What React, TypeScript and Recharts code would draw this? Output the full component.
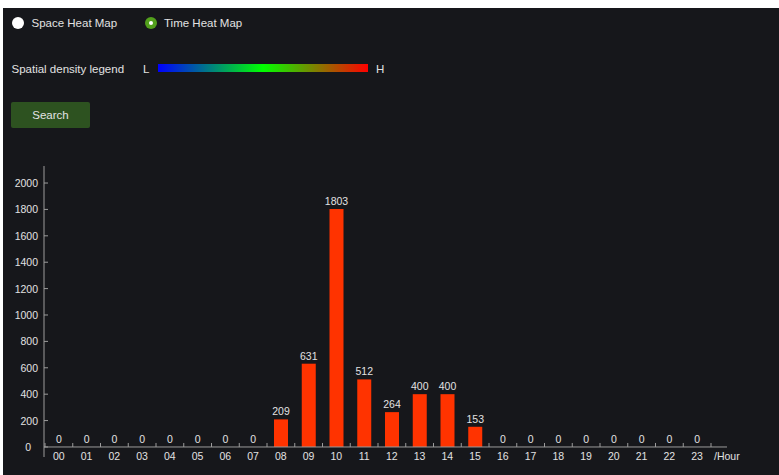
import React from 'react';
import { BarChart, Bar, XAxis, YAxis, ReferenceLine } from 'recharts';

const hours = ['00','01','02','03','04','05','06','07','08','09','10','11','12','13','14','15','16','17','18','19','20','21','22','23'];
const counts = [0,0,0,0,0,0,0,0,209,631,1803,512,264,400,400,153,0,0,0,0,0,0,0,0];
const yTicks = [0,200,400,600,800,1000,1200,1400,1600,1800,2000];
const axisName = '/Hour';
const radioLabels = ['Space Heat Map', 'Time Heat Map'];
const legendTitle = 'Spatial density legend';
const legendLow = 'L';
const legendHigh = 'H';
const buttonText = 'Search';
const gradientStops = ['#0000ff', '#00ff00', '#ff0000'];

const data = hours.map((h, i) => ({ hour: h, count: counts[i] }));

const BG = '#16171b';
const TEXT = '#e2e2e2';
const AXIS = '#9c9c9c';
const BAR = '#ff3300';
const FONT = '"Liberation Sans", Arial, sans-serif';

const CHART_W = 776;
const CHART_H = 467;
const MARGIN = { top: 158, right: 52, bottom: 0, left: 0 };
const Y_W = 41;
const X_H = 18;
const PAD_L = 1;
const PAD_R = 16;
const Y_DOMAIN: [number, number] = [-76, 2129];
const PLOT_W = CHART_W - MARGIN.left - MARGIN.right - Y_W;
const PLOT_H = CHART_H - MARGIN.top - MARGIN.bottom - X_H;
const BAND = (PLOT_W - PAD_L - PAD_R) / hours.length;
const ZERO_OFF = (PLOT_H * (0 - Y_DOMAIN[0])) / (Y_DOMAIN[1] - Y_DOMAIN[0]);

const XTick = (props: any) => {
  const { x, y, payload, index } = props;
  const zeroY = y - ZERO_OFF;
  const last = index === hours.length - 1;
  return (
    <g>
      <line x1={x - BAND / 2} x2={x - BAND / 2} y1={zeroY} y2={zeroY - 4} stroke={AXIS} />
      {last && <line x1={x + BAND / 2} x2={x + BAND / 2} y1={zeroY} y2={zeroY - 4} stroke={AXIS} />}
      <text x={x} y={y + 3} textAnchor="middle" fill={TEXT} fontSize={10.5} fontFamily={FONT}>
        {payload.value}
      </text>
      {last && (
        <text x={x + BAND / 2 + 3} y={y + 3} textAnchor="start" fill={TEXT} fontSize={10.5} fontFamily={FONT}>
          {axisName}
        </text>
      )}
    </g>
  );
};

const YTick = (props: any) => {
  const { x, y, payload } = props;
  const shift = payload.value === 0 ? -7 : 0;
  return (
    <text x={x + shift} y={y + 4} textAnchor="end" fill={TEXT} fontSize={10.5} fontFamily={FONT}>
      {payload.value}
    </text>
  );
};

const BarWithLabel = (props: any) => {
  const { x, y, width, height, value, payload } = props;
  const v = Array.isArray(value) ? value[1] - value[0] : value ?? payload?.count;
  return (
    <g>
      {height > 0 && <rect x={x} y={y} width={width} height={height} fill={BAR} />}
      <text x={x + width / 2} y={y - 4} textAnchor="middle" fill={TEXT} fontSize={10.5} fontFamily={FONT}>
        {v}
      </text>
    </g>
  );
};

const textStyle: React.CSSProperties = {
  position: 'absolute',
  color: TEXT,
  fontSize: 11.5,
  fontFamily: FONT,
  lineHeight: '14px',
  whiteSpace: 'nowrap',
};

export default function App() {
  return (
    <div
      style={{
        position: 'absolute',
        left: 3,
        top: 8,
        width: CHART_W,
        height: CHART_H,
        background: BG,
        overflow: 'hidden',
      }}
    >
      <div style={{ position: 'absolute', left: 8.5, top: 9, width: 12, height: 12, borderRadius: '50%', background: '#ffffff' }} />
      <div style={{ ...textStyle, left: 28.5, top: 8 }}>{radioLabels[0]}</div>
      <div style={{ position: 'absolute', left: 142, top: 9, width: 12, height: 12, borderRadius: '50%', background: '#52a01c' }}>
        <div style={{ position: 'absolute', left: 4, top: 4, width: 4, height: 4, borderRadius: '50%', background: '#ffffff' }} />
      </div>
      <div style={{ ...textStyle, left: 161, top: 8 }}>{radioLabels[1]}</div>
      <div style={{ ...textStyle, left: 8.5, top: 54 }}>{legendTitle}</div>
      <div style={{ ...textStyle, left: 140, top: 54 }}>{legendLow}</div>
      <div
        style={{
          position: 'absolute',
          left: 155,
          top: 56,
          width: 210,
          height: 8,
          background: `linear-gradient(to right, ${gradientStops.join(', ')})`,
        }}
      />
      <div style={{ ...textStyle, left: 373, top: 54 }}>{legendHigh}</div>
      <div
        style={{
          position: 'absolute',
          left: 8,
          top: 94,
          width: 79,
          height: 26,
          borderRadius: 2,
          background: '#2d5220',
          color: TEXT,
          fontSize: 11.5,
          fontFamily: FONT,
          lineHeight: '26px',
          textAlign: 'center',
        }}
      >
        {buttonText}
      </div>
      <div style={{ position: 'absolute', left: 0, top: 0 }}>
        <BarChart width={CHART_W} height={CHART_H} data={data} margin={MARGIN}>
          <XAxis
            dataKey="hour"
            height={X_H}
            axisLine={false}
            tickLine={false}
            tickSize={0}
            tickMargin={0}
            interval={0}
            padding={{ left: PAD_L, right: PAD_R }}
            tick={(p: any) => <XTick {...p} />}
          />
          <YAxis
            width={Y_W}
            type="number"
            domain={Y_DOMAIN}
            ticks={yTicks}
            interval={0}
            stroke={AXIS}
            axisLine={{ stroke: AXIS }}
            tickLine={{ stroke: AXIS }}
            tickSize={-4}
            tickMargin={10}
            tick={(p: any) => <YTick {...p} />}
          />
          <ReferenceLine y={0} stroke={AXIS} strokeWidth={1} />
          <Bar dataKey="count" fill={BAR} barSize={14} isAnimationActive={false} shape={(p: any) => <BarWithLabel {...p} />} />
        </BarChart>
      </div>
    </div>
  );
}
